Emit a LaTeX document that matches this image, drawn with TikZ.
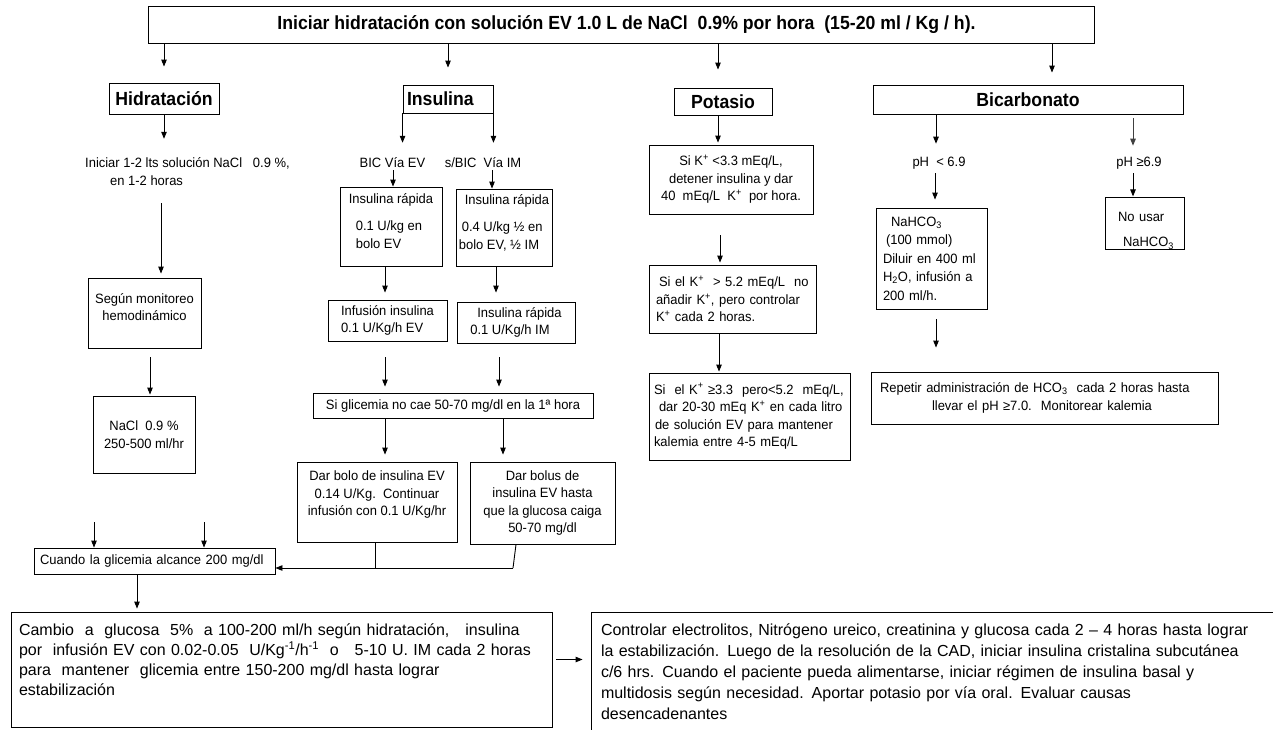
\documentclass[tikz,border=0pt]{standalone}
\usepackage{fontspec}
\newfontfamily\bodyf{Liberation Sans}[FakeStretch=0.96]
\newfontfamily\bigf{Liberation Sans}
\newfontfamily\titf{Liberation Sans}[FakeStretch=0.93]
\usetikzlibrary{arrows.meta}
\begin{document}
\begin{tikzpicture}[x=1pt,y=-1pt,
  bx/.style={draw, line width=0.9pt, inner sep=0pt, font=\bodyf\fontsize{13.5}{17.5}\selectfont},
  tb/.style={draw, line width=0.9pt, inner sep=0pt, font=\titf\bfseries\fontsize{19}{22}\selectfont},
  tx/.style={inner sep=0pt, font=\bodyf\fontsize{13.5}{18}\selectfont},
  arr/.style={line width=0.9pt, -{Triangle[length=7pt,width=5.5pt]}},
  ln/.style={line width=0.9pt}]
\fill[white] (0,0) rectangle (1273,729);
\useasboundingbox (0,0) rectangle (1273,729);

% --- top row
\node[tb, minimum width=946pt, minimum height=37pt] (top) at (621,24.5)
  {\hspace*{11pt}Iniciar hidratación con solución EV 1.0 L de NaCl\ \ 0.9\% por hora\ \ (15-20 ml / Kg / h).};
\node[tb, minimum width=110pt, minimum height=31pt] (hid) at (164,98.5) {Hidratación};
\node[tb, minimum width=90pt, minimum height=28pt, text width=82pt, align=left] (ins) at (448,99) {Insulina};
\node[tb, minimum width=98pt, minimum height=27pt] (pot) at (723,101.5) {Potasio};
\node[tb, minimum width=310pt, minimum height=29pt] (bic) at (1028,99.5) {Bicarbonato};

% --- hidratación column
\node[tx, anchor=west, align=left] (hidtxt) at (85,172)
  {Iniciar 1-2 lts solución NaCl\ \ \ 0.9 \%,\\\hspace*{25pt}en 1-2 horas};
\node[bx, minimum width=113pt, minimum height=70pt, align=center] (seg) at (144.5,313)
  {Según monitoreo\\hemodinámico\\[-6pt]\mbox{}};
\node[bx, minimum width=102pt, minimum height=77pt, align=center] (nacl) at (144,434.5)
  {NaCl\ \ 0.9 \%\\250-500 ml/hr};

% --- insulina column
\node[tx] (biv) at (392.5,163) {BIC Vía EV};
\node[tx] (sbic) at (483,163) {s/BIC\ \ Vía IM};
\node[bx, minimum width=102pt, minimum height=79pt, align=left] (insL) at (391,226.5)
  {Insulina rápida\\[10pt]\hspace*{7pt}0.1 U/kg en\\\hspace*{7pt}bolo EV\\[-6pt]\mbox{}};
\node[bx, minimum width=96pt, minimum height=77pt, align=left] (insR) at (504,227.5)
  {\hspace*{6pt}Insulina rápida\\[10pt]\hspace*{3pt}0.4 U/kg ½ en\\bolo EV, ½ IM\\[-6pt]\mbox{}};
\node[bx, minimum width=119pt, minimum height=41pt, align=left] (infL) at (387.5,320.5)
  {Infusión insulina\\0.1 U/Kg/h EV};
\node[bx, minimum width=118pt, minimum height=41pt, align=left] (infR) at (516,322.5)
  {\hspace*{7pt}Insulina rápida\\0.1 U/Kg/h IM};
\node[bx, minimum width=280pt, minimum height=25pt] (glic) at (453,405.5)
  {Si glicemia no cae 50-70 mg/dl en la 1ª hora};
\node[bx, minimum width=160pt, minimum height=80pt, align=center] (darL) at (377,502)
  {Dar bolo de insulina EV\\0.14 U/Kg.\ \ Continuar\\infusión con 0.1 U/Kg/hr\\\mbox{}};
\node[bx, minimum width=145pt, minimum height=82pt, align=center] (darR) at (542.5,503)
  {Dar bolus de\\insulina EV hasta\\que la glucosa caiga\\50-70 mg/dl};
\node[bx, minimum width=241pt, minimum height=26pt, text width=229pt, align=left] (cuando) at (154.5,561)
  {Cuando la glicemia alcance 200 mg/dl};

% --- bottom boxes
\node[bx, minimum width=541pt, minimum height=115pt, text width=525pt, align=left,
  font=\bigf\fontsize{16}{20}\selectfont] (bigL) at (281.5,669.5)
  {Cambio\ \ a\ \ glucosa\ \ 5\%\ \ a 100-200 ml/h según hidratación,\ \ \ insulina\\
   por\ \ infusión EV con 0.02-0.05\ \ U/Kg\textsuperscript{-1}/h\textsuperscript{-1}\ \ o\ \ \ 5-10 U. IM cada 2 horas\\
   para\ \ mantener\ \ glicemia entre 150-200 mg/dl hasta lograr\\
   estabilización\\\mbox{}};
\node[bx, minimum width=690pt, minimum height=120pt, text width=670pt, align=left,
  font=\bigf\fontsize{16}{21}\selectfont] (bigR) at (936,672)
  {Controlar electrolitos, Nitrógeno ureico, creatinina y glucosa cada 2 – 4 horas hasta lograr\\
   la estabilización. Luego de la resolución de la CAD, iniciar insulina cristalina subcutánea\\
   c/6 hrs. Cuando el paciente pueda alimentarse, iniciar régimen de insulina basal y\\
   multidosis según necesidad. Aportar potasio por vía oral. Evaluar causas\\
   desencadenantes};

% --- potasio column
\node[bx, minimum width=164pt, minimum height=69pt, align=center] (K1) at (731,179.5)
  {Si K\textsuperscript{+} <3.3 mEq/L,\\detener insulina y dar\\40\ \ mEq/L\ \ K\textsuperscript{+}\ \ por hora.};
\node[bx, minimum width=167pt, minimum height=68pt, text width=153pt, align=left] (K2) at (732.5,299)
  {\hspace*{3pt}Si el K\textsuperscript{+}\ \ > 5.2 mEq/L\ \ no\\añadir K\textsuperscript{+}, pero controlar\\K\textsuperscript{+} cada 2 horas.};
\node[bx, minimum width=201pt, minimum height=87pt, text width=191pt, align=left] (K3) at (749.5,416.5)
  {Si\ \ el K\textsuperscript{+} ≥3.3\ \ pero<5.2\ \ mEq/L,\\\hspace*{5pt}dar 20-30 mEq K\textsuperscript{+}\ en cada litro\\\hspace*{1pt}de solución EV para mantener\\kalemia entre 4-5 mEq/L};

% --- bicarbonato column
\node[tx] (ph1) at (939,163) {pH\ \ < 6.9};
\node[tx] (ph2) at (1139,163) {pH ≥6.9};
\node[bx, minimum width=111pt, minimum height=101pt, text width=97pt, align=left,
  font=\bodyf\fontsize{13.5}{18.5}\selectfont] (nah) at (931.5,258.5)
  {\hspace*{8pt}NaHCO\textsubscript{3}\\\hspace*{3pt}(100 mmol)\\Diluir en 400 ml\\H\textsubscript{2}O, infusión a\\200 ml/h.};
\node[bx, minimum width=79pt, minimum height=49pt, text width=53pt, align=left] (nous) at (1144.5,223.5)
  {\mbox{}\\[6.5pt]No usar\\[7.5pt]\hspace*{5pt}NaHCO\textsubscript{3}};
\node[bx, minimum width=347pt, minimum height=52pt, text width=329pt, align=left] (rep) at (1044.5,398)
  {Repetir administración de HCO\textsubscript{3}\ \ cada 2 horas hasta\\\hspace*{52pt}llevar el pH ≥7.0.\ \ Monitorear kalemia};

% --- connectors: top
\draw[arr, shorten >=16pt] (top.south -| hid.north) -- (hid.north);
\draw[arr, shorten >=17pt] (top.south -| ins.north) -- (ins.north);
\draw[arr, shorten >=18pt] ([xshift=-5pt]pot.north |- top.south) -- ([xshift=-5pt]pot.north);
\draw[arr, shorten >=12pt] ([xshift=24pt]bic.north |- top.south) -- ([xshift=24pt]bic.north);

% hidratación
\draw[arr, shorten >=19pt] (hid.south) -- (hid.south |- hidtxt.north);
\draw[arr, shorten <=17pt, shorten >=4pt] ([xshift=-3pt]hid.south |- hidtxt.south) -- ([xshift=-3pt]hid.south |- seg.north);
\draw[arr, shorten <=9pt, shorten >=1pt] ([xshift=5.5pt]seg.south) -- ([xshift=5.5pt]seg.south |- nacl.north);

% insulina
\draw[arr, shorten >=15pt] (ins.south west) -- (ins.south west |- biv.north);
\draw[arr, shorten >=15pt] (ins.south east) -- (ins.south east |- sbic.north);
\draw[arr, shorten <=2pt] ([xshift=0.5pt]biv.south) -- ([xshift=0.5pt]biv.south |- insL.north);
\draw[arr, shorten <=2pt] ([xshift=9pt]sbic.south) -- ([xshift=9pt]sbic.south |- insR.north);
\draw[arr, shorten >=7pt] ([xshift=-6pt]insL.south) -- ([xshift=-6pt]insL.south |- infL.north);
\draw[arr, shorten >=9pt] ([xshift=-8pt]insR.south) -- ([xshift=-8pt]insR.south |- infR.north);
\draw[arr, shorten <=16pt, shorten >=6pt] ([xshift=-2.5pt]infL.south) -- ([xshift=-2.5pt]infL.south |- glic.north);
\draw[arr, shorten <=14pt, shorten >=6pt] ([xshift=-17pt]infR.south) -- ([xshift=-17pt]infR.south |- glic.north);
\draw[arr, shorten >=7pt] ([xshift=8pt]darL.north |- glic.south) -- ([xshift=8pt]darL.north);
\draw[arr, shorten >=7pt] ([xshift=-39.5pt]darR.north |- glic.south) -- ([xshift=-39.5pt]darR.north);
\coordinate (jL) at (375,568);
\coordinate (jR) at (513,568);
\draw[ln] (darL.south -| jL) -- (jL);
\draw[ln] ([xshift=3pt]darR.south -| jR) -- (jR);
\draw[arr] (jR) -- (jR -| cuando.east);
\coordinate (f1) at (94,522);
\coordinate (f2) at (204,522);
\draw[arr] (f1) -- (f1 |- cuando.north);
\draw[arr] (f2) -- (f2 |- cuando.north);
\draw[arr, shorten >=3pt] ([xshift=-17.5pt]cuando.south) -- ([xshift=-17.5pt]cuando.south |- bigL.north);
\draw[arr, shorten <=4pt, shorten >=8pt] ([yshift=10pt]bigL.east) -- ([yshift=10pt]bigL.east -| bigR.west);

% potasio
\draw[arr, shorten >=2pt] ([xshift=-5pt]pot.south) -- ([xshift=-5pt]pot.south |- K1.north);
\draw[arr, shorten <=21pt, shorten >=2pt] ([xshift=-11pt]K1.south) -- ([xshift=-11pt]K1.south |- K2.north);
\draw[arr, shorten >=1pt] ([xshift=-13.5pt]K2.south) -- ([xshift=-13.5pt]K2.south |- K3.north);

% bicarbonato
\draw[arr, shorten >=13pt] ([xshift=-3pt]ph1.north |- bic.south) -- ([xshift=-3pt]ph1.north);
\draw[arr, shorten <=4pt, shorten >=8pt] ([xshift=-4pt]ph1.south) -- ([xshift=-4pt]ph1.south |- nah.north);
\draw[arr, shorten <=10pt, shorten >=24pt] ([xshift=4.5pt]nah.south) -- ([xshift=4.5pt]nah.south |- rep.north);
\draw[arr, black!75, shorten <=4pt, shorten >=11pt] ([xshift=-6pt]ph2.north |- bic.south) -- ([xshift=-6pt]ph2.north);
\draw[arr, shorten <=4pt, shorten >=1pt] ([xshift=-6pt]ph2.south) -- ([xshift=-6pt]ph2.south |- nous.north);
\end{tikzpicture}
\end{document}
